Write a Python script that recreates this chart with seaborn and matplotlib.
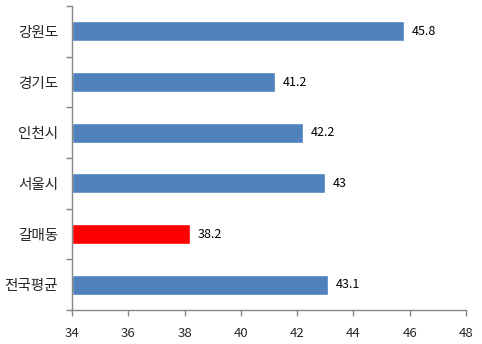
import matplotlib
matplotlib.use("Agg")
import matplotlib.pyplot as plt
import seaborn as sns
import pandas as pd
import numpy as np
from matplotlib.ticker import FixedLocator

categories = ["강원도", "경기도", "인천시", "서울시", "갈매동", "전국평균"]
values = [45.8, 41.2, 42.2, 43, 38.2, 43.1]
labels = ["45.8", "41.2", "42.2", "43", "38.2", "43.1"]
x_ticks = [34, 36, 38, 40, 42, 44, 46, 48]

sns.set_theme(style="white")
plt.rcParams['font.family'] = ['Noto Sans CJK KR', 'DejaVu Sans']

df = pd.DataFrame({"cat": categories, "val": values})
colors = ["#FF0000" if c == "갈매동" else "#4F81BD" for c in categories]

fig = plt.figure(figsize=(4.82, 3.44), dpi=100)
ax = fig.add_axes([72/482, 1-310/344, (466-72)/482, (310-6)/344])
sns.barplot(data=df, x="val", y="cat", hue="cat", palette=colors, legend=False,
            width=0.4, ax=ax, saturation=1, orient="h")
# bars start from the axis minimum (34)
for p, v in zip(ax.patches, values):
    p.set_x(34)
    p.set_width(v - 34)

ax.set_xlim(34, 48)
ax.set_ylim(len(categories) - 0.5, -0.5)
ax.set_xticks(x_ticks)
ax.set_xlabel("")
ax.set_ylabel("")
for i, (v, t) in enumerate(zip(values, labels)):
    ax.annotate(t, (v, i), xytext=(5.5, 0), textcoords="offset points",
                va="center", ha="left", fontsize=9, color="black")

for s in ["top", "right"]:
    ax.spines[s].set_visible(False)
for s in ["left", "bottom"]:
    ax.spines[s].set_color("#868686")
    ax.spines[s].set_linewidth(1)

ax.tick_params(axis="x", direction="out", length=4, color="#868686", width=1,
               labelsize=9.5, pad=8, bottom=True)
ax.tick_params(axis="y", which="major", length=0, labelsize=10.5, pad=10, left=False)
ax.yaxis.set_minor_locator(FixedLocator(np.arange(-0.5, len(categories), 1)))
ax.tick_params(axis="y", which="minor", direction="out", length=4, color="#868686",
               width=1, left=True)
ax.grid(False)

fig.savefig("out.png", dpi=100)
